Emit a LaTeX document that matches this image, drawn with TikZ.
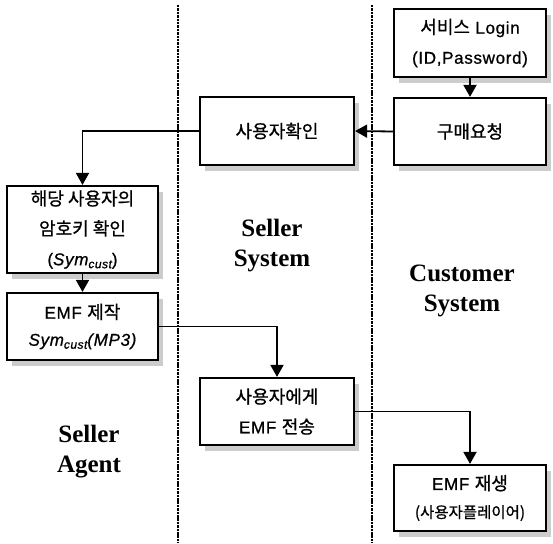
\documentclass[tikz,border=0pt]{standalone}
\usepackage{fontspec}
\newfontfamily\kr[Scale=1.06,LetterSpace=0,RawFeature={embolden=0.8}]{Noto Sans CJK KR}
\newfontfamily\krn[RawFeature={embolden=0.8}]{Noto Sans CJK KR}
\newfontfamily\lat[LetterSpace=4,RawFeature={embolden=0.8}]{Liberation Sans}
\newfontfamily\tim{Liberation Serif}
\usetikzlibrary{arrows.meta,shadows}
\newcommand{\symcust}{{\itshape Sym\raisebox{-3pt}{\fontsize{12}{12}\selectfont cust}}}
\begin{document}
\begin{tikzpicture}[x=1pt,y=-1pt,
  box/.style={draw=black, line width=2.2pt, fill=white, inner sep=0pt, align=center,
    font=\lat\fontsize{17}{30}\selectfont,
    drop shadow={shadow xshift=5pt, shadow yshift=-6pt, fill=black!20, opacity=1}},
  conn/.style={line width=1.8pt, -{Triangle[width=13pt,length=12pt]}},
  sep/.style={line width=2.6pt, dash pattern=on 2.5pt off 0.9pt},
  lab/.style={font=\tim\bfseries\fontsize{25}{30}\selectfont, align=center, inner sep=0pt}]
\fill[white] (0,0) rectangle (553,543);
\useasboundingbox (0,0) rectangle (553,543);
% lane separators
\draw[sep] (178,5) -- (178,543);
\draw[sep] (372,5) -- (372,543);
% boxes
\node[box, minimum width=152pt, minimum height=68pt] (login) at (470,43)
  {{\kr 서비스} Login\\(ID,Password)};
\node[box, minimum width=152pt, minimum height=67pt] (req) at (470,131.5)
  {{\kr 구매요청}};
\node[box, minimum width=154pt, minimum height=68pt] (chk) at (277,131)
  {{\kr 사용자확인}};
\node[box, minimum width=151pt, minimum height=87pt] (key) at (82.5,229.5)
  {{\kr 해당 사용자의}\\{\kr 암호키 확인}\\(\symcust)};
\node[box, minimum width=151pt, minimum height=67pt, font=\lat\fontsize{17}{27}\selectfont] (emf) at (82.5,326.5)
  {EMF {\kr 제작}\\{\itshape \symcust(MP3)}};
\node[box, minimum width=154pt, minimum height=67pt] (send) at (277,411.5)
  {{\kr 사용자에게}\\EMF {\kr 전송}};
\node[box, minimum width=152pt, minimum height=66pt, font=\lat\fontsize{17}{28}\selectfont] (play) at (470,498)
  {EMF {\kr 재생}\\{\krn\fontsize{15.5}{28}\selectfont (사용자플레이어)}};
% lane labels
\node[lab] (ss) at (272,246) {Seller\\System};
\node[lab] (cs) at (462,291) {Customer\\System};
\node[lab] (sa) at (89,452) {Seller\\Agent};
% connectors
\draw[conn] (login.south) -- (req.north);
\draw[conn] (req.west) -- (chk.east);
\draw[conn] (chk.west) -| (key.north);
\draw[conn] (key.south) -- (emf.north);
\draw[conn] (emf.east) -| (send.north);
\draw[conn] (send.east) -| (play.north);
\end{tikzpicture}
\end{document}
